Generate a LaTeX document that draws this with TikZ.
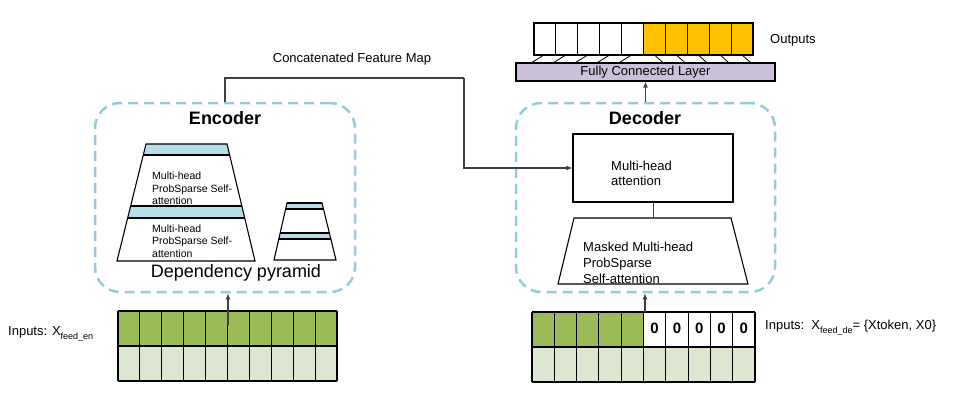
\documentclass[tikz,border=0pt]{standalone}
\usepackage{fontspec}
\setmainfont{Liberation Sans}
\usetikzlibrary{arrows.meta}
\definecolor{dashblue}{HTML}{92CDDC}
\definecolor{bandblue}{HTML}{B7DEE8}
\definecolor{fclav}{HTML}{CCC1DA}
\definecolor{outyel}{HTML}{FFC000}
\definecolor{ingreen}{HTML}{9BBB59}
\definecolor{inlight}{HTML}{DCE6D0}
\definecolor{linegray}{HTML}{404040}
\begin{document}
\begin{tikzpicture}[x=1pt,y=-1pt,
  font=\fontsize{13}{15}\selectfont,
  dashbox/.style={draw=dashblue, line width=2.5pt, dash pattern=on 10pt off 6pt, rounded corners=25pt, inner sep=0pt},
  blk/.style={draw=black, line width=1.1pt},
  conn/.style={draw=linegray, line width=1.2pt},
  arr/.style={conn, -{Latex[length=6pt,width=5pt]}},
  lbl/.style={inner sep=0pt},
  small/.style={font=\fontsize{10.5}{12.5}\selectfont},
]
\useasboundingbox (0,0) rectangle (960,415);

% ---------- boxes ----------
\node[dashbox, minimum width=260pt, minimum height=189pt] (enc) at (225,197.5) {};
\node[dashbox, minimum width=259pt, minimum height=189pt] (dec) at (645.5,197.5) {};
\node[lbl, font=\bfseries\fontsize{18}{20}\selectfont] (enct) at (225,118) {Encoder};
\node[lbl, font=\bfseries\fontsize{18}{20}\selectfont] (dect) at (645,118) {Decoder};

% ---------- encoder pyramids ----------
\begin{scope}
  \clip (146,144) -- (227,144) -- (255,261) -- (117,261) -- cycle;
  \fill[white] (100,140) rectangle (270,265);
  \fill[bandblue] (100,144) rectangle (270,155);
  \fill[bandblue] (100,206) rectangle (270,218);
  \draw[blk] (100,155) -- (270,155);
  \draw[blk] (100,206) -- (270,206);
  \draw[blk] (100,218) -- (270,218);
\end{scope}
\draw[blk, line join=miter] (146,144) -- (227,144) -- (255,261) -- (117,261) -- cycle;
\node[lbl, small, align=left, anchor=west] (t1) at (152,188.5) {Multi-head\\ProbSparse Self-\\attention};
\node[lbl, small, align=left, anchor=west] (t2) at (152,241) {Multi-head\\ProbSparse Self-\\attention};

\begin{scope}
  \clip (287,203) -- (322,203) -- (336,260) -- (274,260) -- cycle;
  \fill[white] (270,200) rectangle (340,262);
  \fill[bandblue] (270,203) rectangle (340,209);
  \fill[bandblue] (270,233) rectangle (340,239);
  \draw[blk] (270,209) -- (340,209);
  \draw[blk] (270,233) -- (340,233);
  \draw[blk] (270,239) -- (340,239);
\end{scope}
\draw[blk, line join=miter] (287,203) -- (322,203) -- (336,260) -- (274,260) -- cycle;
\draw[draw=black, line width=2.2pt] (287,203) -- (322,203);

\node[lbl, font=\fontsize{18}{20}\selectfont] (dp) at (236,273) {Dependency pyramid};

% ---------- decoder ----------
\node[blk, fill=white, minimum width=160pt, minimum height=68pt, inner sep=0pt] (mha) at (653,168) {};
\node[lbl, align=left, anchor=west] (mhat) at (611,173.5) {Multi-head\\attention};
\draw[blk, fill=white, line join=miter] (574,218) -- (731,218) -- (748,284) -- (558,284) -- cycle;
\coordinate (mtop) at (653,218);
\draw[conn, line width=0.9pt] (mha.south) -- (mtop);
\node[lbl, align=left, anchor=west, font=\fontsize{13}{16}\selectfont] (mskt) at (583,263) {Masked Multi-head\\ProbSparse\\Self-attention};

% ---------- FC + outputs ----------
\node[blk, fill=fclav, minimum width=259pt, minimum height=18pt, inner sep=0pt] (fc) at (645.5,72) {Fully Connected Layer};
\foreach \i in {0,...,9} {
  \pgfmathsetmacro\xa{534+\i*21.9}
  \pgfmathsetmacro\xb{534+(\i+1)*21.9}
  \ifnum\i<5
    \draw[blk, fill=white] (\xa,23) rectangle (\xb,55);
  \else
    \draw[blk, fill=outyel] (\xa,23) rectangle (\xb,55);
  \fi
}
\foreach \i in {0,...,4} {
  \pgfmathsetmacro\xc{534+(\i+0.5)*21.9}
  \draw[draw=black, line width=0.8pt] (\xc-14,63) -- (\xc-1,55);
}
\foreach \i in {5,...,9} {
  \pgfmathsetmacro\xc{534+(\i+0.5)*21.9}
  \draw[draw=black, line width=0.8pt] (\xc,55) -- (\xc+9,63);
}
\node[lbl, anchor=west] (outl) at (770,40) {Outputs};

% ---------- inputs ----------
\fill[ingreen] (118,311) rectangle (337,346);
\fill[inlight] (118,346) rectangle (337,381);
\foreach \i in {0,...,10} \draw[blk] ({118+\i*21.9},311) -- ({118+\i*21.9},381);
\foreach \y in {311,346,381} \draw[blk] (118,\y) -- (337,\y);

\fill[ingreen] (532,312) rectangle ({532+5*22.3},347);
\fill[white] ({532+5*22.3},312) rectangle (755,347);
\fill[inlight] (532,347) rectangle (755,382);
\foreach \i in {0,...,10} \draw[blk] ({532+\i*22.3},312) -- ({532+\i*22.3},382);
\foreach \y in {312,347,382} \draw[blk] (532,\y) -- (755,\y);
\foreach \i in {5,...,9} \node[lbl, font=\bfseries\fontsize{15}{16}\selectfont] (z\i) at ({532+(\i+0.5)*22.3},328) {0};

\node[lbl, anchor=west] (inen) at (8,334) {Inputs: X\raisebox{-4pt}{\fontsize{9}{9}\selectfont feed\_en}};
\node[lbl, anchor=west] (inde) at (765,328) {Inputs:\ \ X\raisebox{-4pt}{\fontsize{9}{9}\selectfont feed\_de}= \{Xtoken, X0\}};

% ---------- connectors ----------
\coordinate (ein) at (228,325);
\coordinate (din) at (645,312);
\coordinate (c1) at (464,78);
\draw[arr] (ein) -- (ein |- enc.south);
\draw[arr] (din) -- (din |- dec.south);
\draw[arr] (dec.north) -- (fc.south);
\draw[conn] (enc.north) |- (c1);
\draw[arr] (c1) |- (mha.west);
\node[lbl] (cfm) at (352,59) {Concatenated Feature Map};
\end{tikzpicture}
\end{document}
